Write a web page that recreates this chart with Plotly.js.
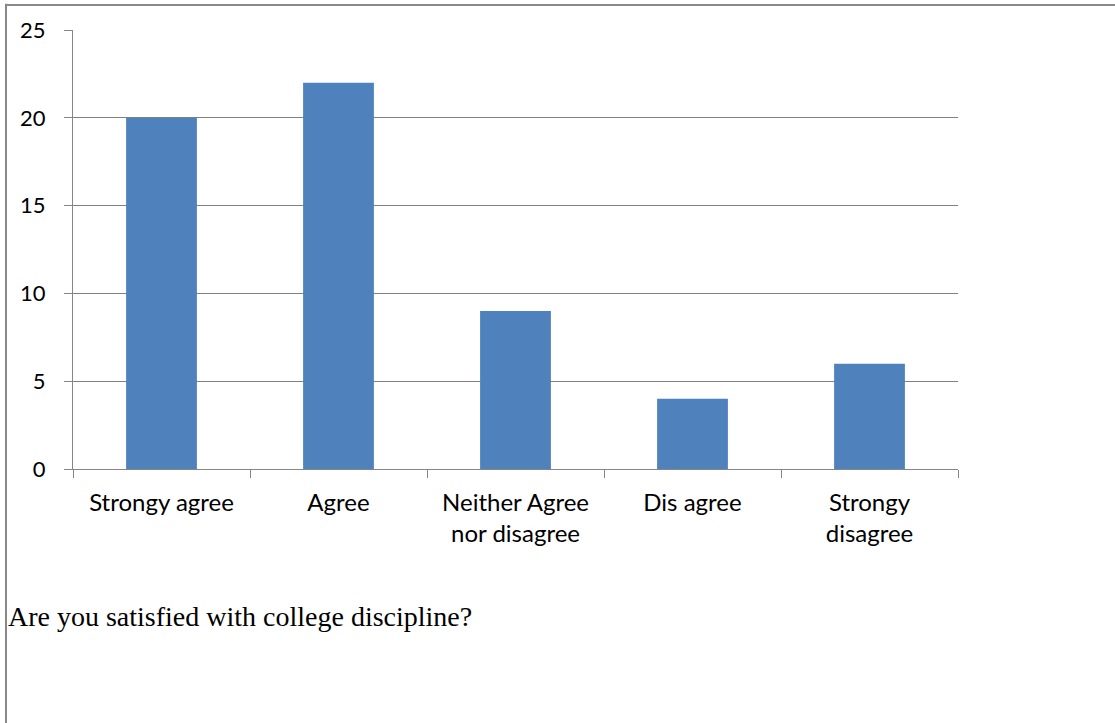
<!DOCTYPE html>
<html>
<head>
<meta charset="utf-8">
<script src="https://cdn.plot.ly/plotly-3.0.1.min.js"></script>
<style>html,body{margin:0;padding:0;background:#fff;}#chart{width:1115px;height:723px;}</style>
</head>
<body>
<div id="chart"></div>
<script>
var categories = ["Strongy agree", "Agree", "Neither Agree<br>nor disagree", "Dis agree", "Strongy<br>disagree"];
var responses = [20, 22, 9, 4, 6];
var yTicks = [0, 5, 10, 15, 20, 25];
var captionText = "Are you satisfied with college discipline?";

var trace = {
  type: "bar",
  x: categories,
  y: responses,
  width: 0.4,
  marker: {color: "#4F81BD", line: {width: 0}},
  hoverinfo: "x+y"
};

var layout = {
  width: 1115,
  height: 723,
  margin: {l: 73, r: 157, t: 30, b: 254, pad: 0},
  paper_bgcolor: "#ffffff",
  plot_bgcolor: "#ffffff",
  showlegend: false,
  font: {family: "Lato, 'Open Sans', sans-serif", size: 21, color: "#000000"},
  xaxis: {
    type: "category",
    showline: true,
    linecolor: "#868686",
    linewidth: 1,
    ticks: "outside",
    tickson: "boundaries",
    ticklen: 8,
    tickcolor: "#868686",
    showgrid: false,
    zeroline: false,
    ticklabelstandoff: 12,
    tickfont: {family: "Lato, 'Open Sans', sans-serif", size: 24, color: "#000"},
    fixedrange: true
  },
  yaxis: {
    range: [0, 25],
    tickvals: yTicks,
    ticktext: yTicks.map(String),
    showline: true,
    linecolor: "#868686",
    linewidth: 1,
    ticks: "outside",
    ticklen: 8,
    tickcolor: "#868686",
    showgrid: true,
    gridcolor: "#808080",
    gridwidth: 1,
    zeroline: false,
    ticklabelstandoff: 14,
    tickfont: {family: "Lato, 'Open Sans', sans-serif", size: 22, color: "#000"},
    fixedrange: true
  },
  shapes: [
    {type: "line", xref: "paper", yref: "paper", x0: -0.0757, x1: -0.0757, y0: 1.06, y1: -0.58, line: {color: "#888888", width: 2}},
    {type: "line", xref: "paper", yref: "paper", x0: -0.0757, x1: 1.18, y0: 1.057, y1: 1.057, line: {color: "#888888", width: 2}}
  ],
  annotations: [
    {
      text: captionText,
      xref: "paper", yref: "paper",
      x: -0.0757, y: -0.337,
      xanchor: "left", yanchor: "middle",
      showarrow: false,
      font: {family: "'Liberation Serif', 'Times New Roman', serif", size: 28, color: "#000"}
    }
  ]
};

Plotly.newPlot("chart", [trace], layout, {displayModeBar: false, staticPlot: true});
</script>
</body>
</html>
